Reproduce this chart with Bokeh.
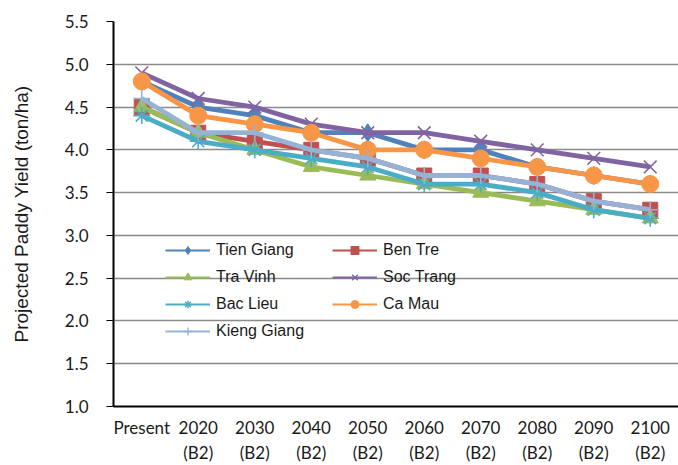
from bokeh.plotting import figure
from bokeh.models import (FactorRange, Range1d, Legend, LegendItem, ColumnDataSource,
                          FixedTicker, CustomJSTickFormatter, Grid)
from bokeh.embed import file_html
from bokeh.resources import INLINE

# Projection periods (category axis)
periods = ["Present", "2020\n(B2)", "2030\n(B2)", "2040\n(B2)", "2050\n(B2)",
           "2060\n(B2)", "2070\n(B2)", "2080\n(B2)", "2090\n(B2)", "2100\n(B2)"]

# Projected paddy yield per province (ton/ha)
tien_giang = [4.8, 4.5, 4.4, 4.2, 4.2, 4.0, 4.0, 3.8, 3.7, 3.6]
ben_tre = [4.5, 4.2, 4.1, 4.0, 3.9, 3.7, 3.7, 3.6, 3.4, 3.3]
tra_vinh = [4.5, 4.2, 4.0, 3.8, 3.7, 3.6, 3.5, 3.4, 3.3, 3.2]
soc_trang = [4.9, 4.6, 4.5, 4.3, 4.2, 4.2, 4.1, 4.0, 3.9, 3.8]
bac_lieu = [4.4, 4.1, 4.0, 3.9, 3.8, 3.6, 3.6, 3.5, 3.3, 3.2]
ca_mau = [4.8, 4.4, 4.3, 4.2, 4.0, 4.0, 3.9, 3.8, 3.7, 3.6]
kieng_giang = [4.6, 4.2, 4.2, 4.0, 3.9, 3.7, 3.7, 3.6, 3.4, 3.3]

y_ticks = [1.0, 1.5, 2.0, 2.5, 3.0, 3.5, 4.0, 4.5, 5.0, 5.5]

# name, values, colour, marker, marker size, marker outline width
series = [
    ("Tien Giang", tien_giang, "#4F81BD", "diamond", 18, 1),
    ("Ben Tre", ben_tre, "#C0504D", "square", 15, 1),
    ("Tra Vinh", tra_vinh, "#9BBB59", "triangle", 16, 1),
    ("Soc Trang", soc_trang, "#8064A2", "x", 18, 1.6),
    ("Bac Lieu", bac_lieu, "#4BACC6", "asterisk", 17, 1.6),
    ("Ca Mau", ca_mau, "#F79646", "circle", 17, 1),
    ("Kieng Giang", kieng_giang, "#95B3D7", "cross", 17, 1.6),
]

p = figure(
    width=678, height=465,
    x_range=FactorRange(factors=periods, range_padding=0),
    y_range=Range1d(1.0, 5.5),
    output_backend="svg", toolbar_location=None,
    min_border_left=113, min_border_right=0, min_border_top=21, min_border_bottom=59,
)
p.outline_line_color = None
p.background_fill_color = "white"

legend_items = {}
for name, vals, color, marker, size, lw in series:
    src = ColumnDataSource(dict(x=periods, y=vals))
    p.line("x", "y", source=src, line_color=color, line_width=4.8)
    p.scatter("x", "y", source=src, marker=marker, size=size,
              fill_color=color, line_color=color, line_width=lw)
    # thin legend-only glyphs (a single NaN point, so nothing shows on the plot)
    proxy = ColumnDataSource(dict(x=periods[:1], y=[float("nan")]))
    lg_line = p.line("x", "y", source=proxy, line_color=color, line_width=2)
    lg_mark = p.scatter("x", "y", source=proxy, marker=marker, size=10,
                        fill_color=color, line_color=color, line_width=min(lw, 1.4))
    legend_items[name] = LegendItem(label=name, renderers=[lg_line, lg_mark])


def make_legend(names, loc):
    return Legend(
        items=[legend_items[n] for n in names], location=loc,
        glyph_width=45, glyph_height=20, label_height=20, spacing=7,
        padding=0, margin=0, border_line_color=None, background_fill_alpha=0,
        label_text_font="Liberation Sans", label_text_font_size="16px",
        label_standoff=6, label_text_color="#1a1a1a",
    )


p.add_layout(make_legend(["Tien Giang", "Tra Vinh", "Bac Lieu", "Kieng Giang"], (52, 65)))
p.add_layout(make_legend(["Ben Tre", "Soc Trang", "Ca Mau"], (219, 92)))

# grid: grey lines, dark line along the top of the plot area
p.xgrid.grid_line_color = None
p.ygrid.ticker = FixedTicker(ticks=y_ticks[:-1])
p.ygrid.grid_line_color = "#8a8a8a"
p.ygrid.grid_line_width = 1.5
p.add_layout(Grid(dimension=1, ticker=FixedTicker(ticks=y_ticks[-1:]),
                  grid_line_color="#222222", grid_line_width=2))

# y axis
p.yaxis.ticker = FixedTicker(ticks=y_ticks)
p.yaxis.formatter = CustomJSTickFormatter(code="return tick.toFixed(1);")
p.yaxis.axis_label = "Projected Paddy Yield (ton/ha)"
p.yaxis.axis_label_text_font = "Liberation Sans"
p.yaxis.axis_label_text_font_size = "19px"
p.yaxis.axis_label_text_font_style = "normal"
p.yaxis.axis_label_text_color = "#1a1a1a"
p.yaxis.axis_label_standoff = 30
p.yaxis.major_tick_out = 7
p.yaxis.major_tick_in = 0
p.yaxis.minor_tick_line_color = None
p.yaxis.major_label_standoff = 18
p.yaxis.major_tick_line_color = "black"

# x axis
p.xaxis.major_tick_line_color = None
p.xaxis.major_label_standoff = 4

for ax in (p.xaxis, p.yaxis):
    ax.axis_line_color = "black"
    ax.axis_line_width = 2
    ax.major_label_text_font = "Lato"
    ax.major_label_text_font_size = "17px"
    ax.major_label_text_color = "#1a1a1a"

open("out.html", "w").write(file_html(p, INLINE))
